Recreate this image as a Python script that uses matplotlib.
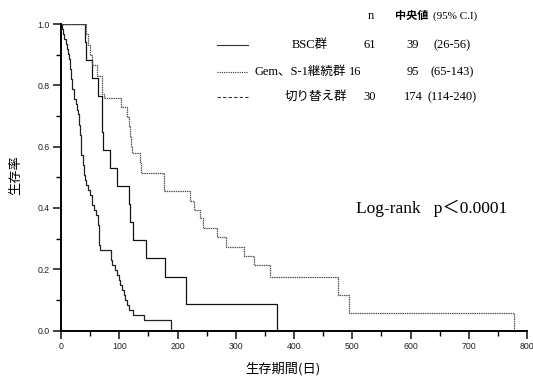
import matplotlib
matplotlib.use('Agg')
import matplotlib.pyplot as plt
from matplotlib.lines import Line2D

plt.rcParams['font.family'] = ['Liberation Sans', 'Noto Sans CJK JP']

# BSC群 (n=61)
bsc_t = [0, 2, 4, 6, 8, 10, 12, 13, 15, 17, 19, 22, 25, 27, 29, 31, 33, 34, 35, 37,
         39, 41, 43, 46, 50, 54, 57, 60, 63, 64, 65, 66, 67, 85, 87, 92, 96, 99, 102,
         105, 108, 110, 113, 116, 124, 142, 188]
bsc_s = [1.0, .984, .967, .951, .934, .918, .902, .885, .852, .82, .787, .754, .738, .721,
         .705, .672, .639, .607, .574, .541, .508, .492, .475, .459, .443, .41, .393, .377,
         .361, .344, .311, .279, .262, .23, .213, .197, .18, .164, .148, .131, .115, .098,
         .082, .066, .049, .033, 0.0]

# Gem、S-1継続群 (n=16)
gem_t = [0, 42, 43, 54, 64, 70, 71, 72, 84, 96, 116, 119, 124, 146, 178, 215, 370]
gem_s = [1.0, .941, .882, .824, .765, .706, .647, .588, .529, .471, .412, .353, .294,
         .235, .176, .088, 0.0]

# 切り替え群 (n=30)
sw_t = [0, 43, 46, 49, 53, 61, 70, 73, 103, 113, 117, 119, 121, 122, 135, 137, 177, 222,
        228, 238, 244, 268, 284, 314, 331, 359, 475, 494, 777]
sw_s = [1.0, .967, .933, .9, .867, .83, .77, .757, .728, .697, .667, .633, .6, .578, .545,
        .513, .456, .423, .393, .366, .333, .304, .273, .243, .214, .176, .116, .058, 0.0]

legend_rows = [
    ('BSC群', '61', '39', '(26-56)'),
    ('Gem、S-1継続群', '16', '95', '(65-143)'),
    ('切り替え群', '30', '174', '(114-240)'),
]

W, H = 533, 379
fig = plt.figure(figsize=(W / 100, H / 100), dpi=100)
ax = fig.add_axes([61 / W, (H - 330.5) / H, 466 / W, 306.5 / H])

ax.step(bsc_t, bsc_s, where='post', color='#222222', lw=0.9)
ax.step(gem_t, gem_s, where='post', color='#111111', lw=0.9)
ax.step(sw_t, sw_s, where='post', color='#555555', lw=0.9, linestyle=(0, (1.2, 0.6)))

ax.set_xlim(0, 800)
ax.set_ylim(0, 1.0)
ax.spines['top'].set_visible(False)
ax.spines['right'].set_visible(False)
ax.spines['left'].set_linewidth(1.4)
ax.spines['bottom'].set_linewidth(1.4)
ax.set_xticks(range(0, 801, 100))
ax.set_xticks(range(50, 800, 100), minor=True)
ax.set_yticks([0, .2, .4, .6, .8, 1.0])
ax.set_yticklabels(['0.0', '0.2', '0.4', '0.6', '0.8', '1.0'])
ax.set_yticks([.1, .3, .5, .7, .9], minor=True)
ax.tick_params(which='major', length=6, width=1.2, labelsize=6.3, colors='#222222', pad=2)
ax.tick_params(which='minor', length=3.5, width=1.0)

fig.text(16 / W, 1 - 175 / H, '生存率', rotation=90, ha='center', va='center',
         fontsize=9.5, family=['Noto Sans CJK JP'])
fig.text(283 / W, 1 - 369 / H, '生存期間(日)', ha='center', va='center',
         fontsize=9.5, family=['Noto Sans CJK JP'])

serif = ['Liberation Serif', 'Noto Sans CJK JP']
fig.text(371 / W, 1 - 16 / H, 'n', ha='center', va='center', fontsize=9, family=serif)
fig.text(412 / W, 1 - 16 / H, '中央値', ha='center', va='center', fontsize=8,
         family=serif, fontweight='bold')
fig.text(455 / W, 1 - 16 / H, '(95% C.I)', ha='center', va='center', fontsize=8, family=serif)

styles = ['-', (0, (1, 1)), (0, (3, 2))]
row_y = [45, 72, 97]
name_x = [310, 300, 316]
for (name, n, med, ci), ls, y, nx in zip(legend_rows, styles, row_y, name_x):
    fig.add_artist(Line2D([217 / W, 248 / W], [1 - y / H, 1 - y / H], color='#333333',
                          lw=0.8, linestyle=ls, transform=fig.transFigure))
    fig.text(nx / W, 1 - y / H, name, ha='center', va='center', fontsize=9, family=serif)
    fig.text((355 if n == '16' else 370) / W, 1 - y / H, n, ha='center', va='center',
             fontsize=9, family=serif)
    fig.text(413 / W, 1 - y / H, med, ha='center', va='center', fontsize=9, family=serif)
    fig.text(452 / W, 1 - y / H, ci, ha='center', va='center', fontsize=9, family=serif)

fig.text(432 / W, 1 - 208 / H, 'Log-rank   p＜0.0001', ha='center', va='center',
         fontsize=12.5, family=serif)

fig.savefig('out.png', dpi=100)
